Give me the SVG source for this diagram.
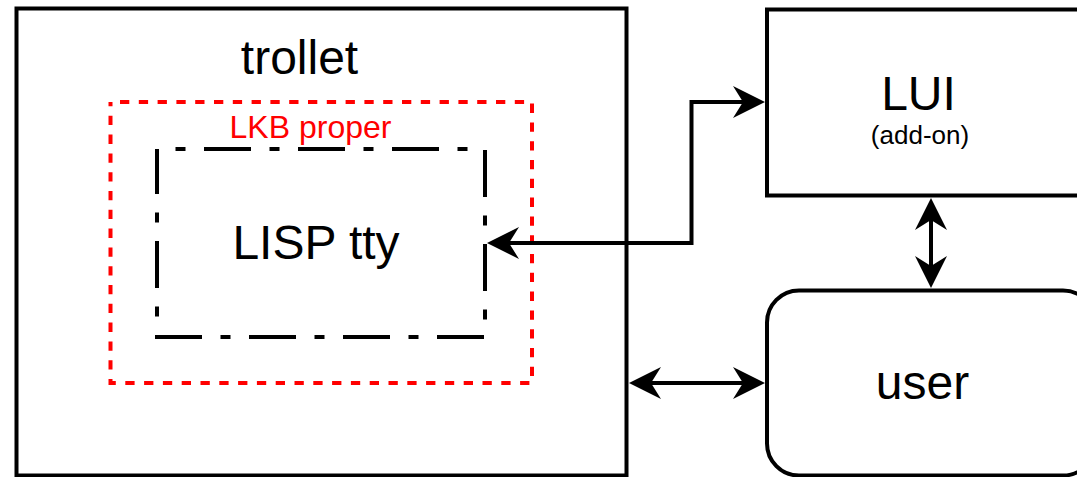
<svg xmlns="http://www.w3.org/2000/svg" width="1077" height="477" viewBox="0 0 1077 477">
  <style>
    .box { fill: #ffffff; stroke: #000000; stroke-width: 4; }
    .lbl { font-family: "Liberation Sans", Arial, sans-serif; fill: #000000; text-anchor: middle; }
    .conn { fill: none; stroke: #000000; stroke-width: 4; }
  </style>
  <defs>
    <marker id="arrow" viewBox="0 0 32 32" refX="10" refY="16" markerWidth="32" markerHeight="32" markerUnits="userSpaceOnUse" orient="auto-start-reverse">
      <path d="M32,16 L0,0 L10,16 L0,32 Z" fill="#000000"/>
    </marker>
  </defs>
  <rect width="1077" height="477" fill="#ffffff"/>

  <g id="trollet">
    <rect class="box" x="16.5" y="8.5" width="610" height="467"/>
    <text class="lbl" x="299.5" y="73.5" font-size="48">trollet</text>
  </g>

  <g id="lkb-proper">
    <rect x="110.5" y="102" width="421.5" height="281" fill="none" stroke="#ff0000" stroke-width="4" stroke-dasharray="9.3 9.5" stroke-dashoffset="9.3"/>
    <text class="lbl" x="310.5" y="137.5" font-size="32" fill="#ff0000" style="fill:#ff0000">LKB proper</text>
  </g>

  <g id="lisp-tty">
    <rect x="157" y="149" width="328" height="188" fill="none" stroke="#000000" stroke-width="4" stroke-dasharray="47 18.5 10 18.5" stroke-dashoffset="47"/>
    <text class="lbl" x="316" y="258.5" font-size="48">LISP tty</text>
  </g>

  <g id="lui">
    <rect class="box" x="767" y="9.5" width="328" height="186"/>
    <text class="lbl" x="918.5" y="110" font-size="48">LUI</text>
    <text class="lbl" x="920" y="144" font-size="26">(add-on)</text>
  </g>

  <g id="user">
    <rect class="box" x="767" y="290.5" width="328" height="185" rx="32" ry="32"/>
    <text class="lbl" x="922.5" y="399" font-size="48">user</text>
  </g>

  <g id="connectors">
    <path class="conn" d="M509,243 L691.5,243 L691.5,102 L743,102" marker-start="url(#arrow)" marker-end="url(#arrow)"/>
    <path class="conn" d="M651,383 L743,383" marker-start="url(#arrow)" marker-end="url(#arrow)"/>
    <path class="conn" d="M931,220 L931,266" marker-start="url(#arrow)" marker-end="url(#arrow)"/>
  </g>
</svg>
